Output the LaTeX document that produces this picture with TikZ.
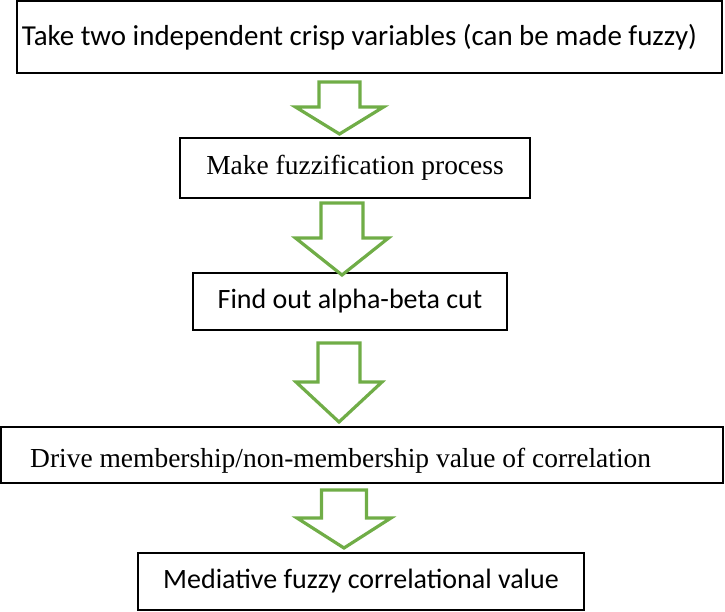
\documentclass[tikz,border=0pt]{standalone}
\usepackage{fontspec}
\setmainfont{Liberation Serif}
\newfontfamily\calibri{Carlito}
\definecolor{pfeilgruen}{RGB}{112,173,71}

\tikzset{
  box/.style={draw, line width=1.1pt, inner sep=0pt},
  sans/.style={font=\calibri\fontsize{21}{25}\selectfont},
  serif/.style={font=\fontsize{20.6}{24}\selectfont},
  pfeil/.style={draw=pfeilgruen, line width=2.4pt, fill=white}
}

\begin{document}
\begin{tikzpicture}[x=0.75pt, y=-0.75pt]
    \useasboundingbox (0,0) rectangle (725,611);

    % Kaesten
    \node[box, font=\calibri\fontsize{21.7}{25}\selectfont,
          minimum width=705*0.75pt, minimum height=72*0.75pt]
      (b1) at (369.5,37) {\hspace*{-15pt}Take two independent crisp variables (can be made fuzzy)};
    \node[box, serif, minimum width=350*0.75pt, minimum height=60*0.75pt]
      (b2) at (355,168) {Make fuzzification process};
    \node[box, sans, minimum width=314*0.75pt, minimum height=57*0.75pt]
      (b3) at (350,301.5) {Find out alpha-beta cut};
    \node[box, serif, minimum width=722*0.75pt, minimum height=56*0.75pt,
          text height=18pt, text depth=0pt]
      (b4) at (362,455) {\hspace*{-32pt}Drive membership/non-membership value of correlation};
    \node[box, sans, minimum width=446*0.75pt, minimum height=57*0.75pt]
      (b5) at (361,581.5) {Mediative fuzzy correlational value};

    % Blockpfeile: Mitte/Oben/Schulter/Spitze/Schaft/Kopf
    \foreach \xm/\ya/\yb/\yc/\sw/\hw in {339.5/82/107/134/20.5/44,
                                        342/203/238/275/21/46.5,
                                        339/343/382/422/21/43,
                                        344/490/518/548/22.5/47}
      {
        \draw[pfeil] ({\xm-\sw},\ya) -- ({\xm+\sw},\ya) -- ({\xm+\sw},\yb)
          -- ({\xm+\hw},\yb) -- (\xm,\yc) -- ({\xm-\hw},\yb)
          -- ({\xm-\sw},\yb) -- cycle;
      }

\end{tikzpicture}
\end{document}
